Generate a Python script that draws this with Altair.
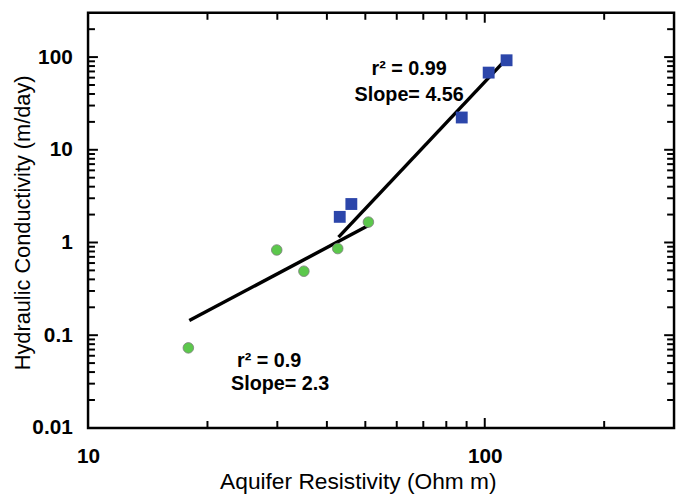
import altair as alt
import pandas as pd

# ---- data ----
res_green = [17.9, 29.9, 35.0, 42.6, 50.9]
k_green = [0.073, 0.83, 0.49, 0.86, 1.66]

res_blue = [43.1, 46.1, 87.5, 102.3, 113.5]
k_blue = [1.89, 2.60, 22.3, 68.0, 92.4]

fit_green_x = [18.0, 51.3]
fit_green_y = [0.144, 1.55]
fit_blue_x = [42.8, 113.6]
fit_blue_y = [1.144, 96.2]

ann_text = ["r\u00b2 = 0.99", "Slope= 4.56", "r\u00b2 = 0.9", "Slope= 2.3"]
ann_x = [64.5, 64.5, 28.6, 30.5]
ann_y = [75.0, 39.4, 0.0521, 0.0294]

x_labels = [10, 100]
y_labels = [0.01, 0.1, 1, 10, 100]
x_minor = [20, 30, 40, 50, 60, 70, 80, 90, 200]
x_major = [100]
y_minor = [0.02, 0.03, 0.04, 0.05, 0.06, 0.07, 0.08, 0.09,
           0.2, 0.3, 0.4, 0.5, 0.6, 0.7, 0.8, 0.9,
           2, 3, 4, 5, 6, 7, 8, 9,
           20, 30, 40, 50, 60, 70, 80, 90, 200]
y_major = [0.1, 1, 10, 100]

# ---- layout ----
W, H = 593, 420
FONT = "Liberation Sans"

xscale = alt.Scale(type="log", domain=[10, 300], nice=False)
yscale = alt.Scale(type="log", domain=[0.01, 300], nice=False)

x_axis = alt.Axis(
    values=x_labels, format="~g", title="Aquifer Resistivity (Ohm m)",
    ticks=False, domain=False, grid=False, labelOverlap=False, labelFlush=False,
    labelFont=FONT, labelFontSize=21, labelFontWeight="bold", labelColor="black",
    labelPadding=18,
    titleFont=FONT, titleFontSize=23, titleFontWeight="normal", titleColor="black",
    titleX=273, titleY=61, titleBaseline="alphabetic", titleAlign="center",
)
y_axis = alt.Axis(
    values=y_labels, format="~g", title="Hydraulic Conductivity (m/day)",
    ticks=False, domain=False, grid=False, labelOverlap=False, labelFlush=False,
    labelFont=FONT, labelFontSize=21, labelFontWeight="bold", labelColor="black",
    labelPadding=16, labelBaseline="middle",
    titleFont=FONT, titleFontSize=22, titleFontWeight="normal", titleColor="black",
    titleX=-66, titleY=212, titleBaseline="middle", titleAlign="center", titleAngle=-90,
)

X = lambda f: alt.X(f, scale=xscale, axis=x_axis)
Y = lambda f: alt.Y(f, scale=yscale, axis=y_axis)

df_g = pd.DataFrame({"res": res_green, "k": k_green})
df_b = pd.DataFrame({"res": res_blue, "k": k_blue})
df_fg = pd.DataFrame({"res": fit_green_x, "k": fit_green_y})
df_fb = pd.DataFrame({"res": fit_blue_x, "k": fit_blue_y})
df_ann = pd.DataFrame({"res": ann_x, "k": ann_y, "t": ann_text})

green = alt.Chart(df_g).mark_circle(
    size=115, color="#5cc84c", stroke="#7d7d7d", strokeWidth=0.8, opacity=1
).encode(x=X("res:Q"), y=Y("k:Q"))
blue = alt.Chart(df_b).mark_square(size=144, color="#2c46aa", opacity=1).encode(
    x=X("res:Q"), y=Y("k:Q"))
line_g = alt.Chart(df_fg).mark_line(color="black", strokeWidth=3.5).encode(
    x=X("res:Q"), y=Y("k:Q"))
line_b = alt.Chart(df_fb).mark_line(color="black", strokeWidth=3.5).encode(
    x=X("res:Q"), y=Y("k:Q"))
ann = alt.Chart(df_ann).mark_text(
    font=FONT, fontSize=20, fontWeight="bold", align="center", baseline="middle", color="black"
).encode(x=X("res:Q"), y=Y("k:Q"), text="t:N")


def xticks(vals, length, top):
    c = alt.Chart(pd.DataFrame({"res": vals})).mark_rule(color="black", strokeWidth=2)
    if top:
        return c.encode(x=X("res:Q"), y=alt.value(0), y2=alt.value(length))
    return c.encode(x=X("res:Q"), y=alt.value(H), y2=alt.value(H - length))


def yticks(vals, length, right):
    c = alt.Chart(pd.DataFrame({"k": vals})).mark_rule(color="black", strokeWidth=2)
    if right:
        return c.encode(y=Y("k:Q"), x=alt.value(W), x2=alt.value(W - length))
    return c.encode(y=Y("k:Q"), x=alt.value(0), x2=alt.value(length))


tick_layers = [
    xticks(x_minor, 7, False), xticks(x_major, 10, False),
    xticks(x_minor, 7, True), xticks(x_major, 10, True),
    yticks(y_minor, 7, False), yticks(y_major, 10, False),
    yticks(y_minor, 7, True), yticks(y_major, 10, True),
]

chart = alt.layer(
    *tick_layers, line_g, line_b, green, blue, ann
).properties(
    width=W, height=H,
    autosize=alt.AutoSizeParams(type="none"),
    padding={"left": 81, "top": 2, "right": 3, "bottom": 65},
    background="white",
).configure_view(
    stroke="black", strokeWidth=2.5
)

chart.save("out.html", embed_options={"renderer": "svg", "actions": False})
